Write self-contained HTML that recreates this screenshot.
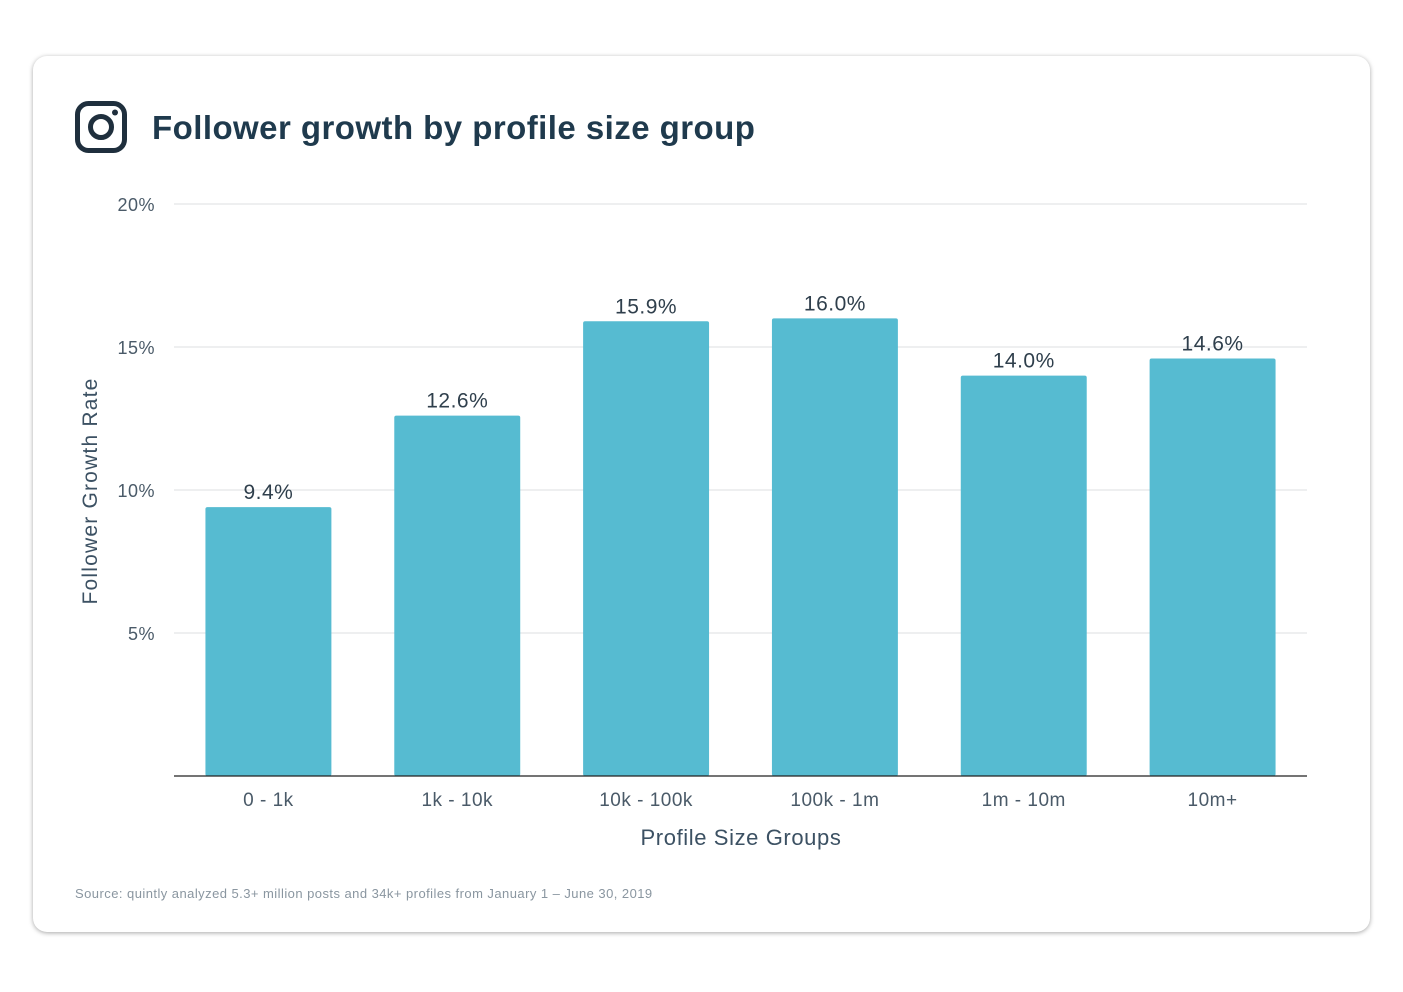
<!DOCTYPE html>
<html><head><meta charset="utf-8"><style>
html,body{margin:0;padding:0;background:#fff;width:1403px;height:992px;overflow:hidden;font-family:"Liberation Sans",sans-serif;}
#card{position:absolute;left:33px;top:56px;width:1337px;height:876px;border-radius:14px;background:#fff;box-shadow:0 1px 5px rgba(0,0,0,0.35);}
</style></head><body>
<div id="card"></div>
<svg width="1403" height="992" style="position:absolute;left:0;top:0">
<g>
<rect x="77.5" y="103.5" width="47" height="47" rx="11" fill="none" stroke="#1f2f3d" stroke-width="5"/>
<circle cx="101" cy="127" r="10.5" fill="none" stroke="#1f2f3d" stroke-width="5"/>
<circle cx="115" cy="112.5" r="3" fill="#1f2f3d"/>
</g>
<text x="152" y="139" font-size="33" font-weight="bold" fill="#1f3a4d" letter-spacing="0.45">Follower growth by profile size group</text>
<g id="grid"></g><g id="bars"></g><g id="labels"></g>
<text transform="translate(97,491) rotate(-90)" text-anchor="middle" font-size="21" letter-spacing="1.2" fill="#3c5163">Follower Growth Rate</text>
<text x="741" y="845" text-anchor="middle" font-size="22" letter-spacing="0.6" fill="#3c5163">Profile Size Groups</text>
<text x="75" y="898" font-size="13" letter-spacing="0.45" fill="#8a96a0">Source: quintly analyzed 5.3+ million posts and 34k+ profiles from January 1 – June 30, 2019</text>
</svg>
<script>
const categories=["0 - 1k","1k - 10k","10k - 100k","100k - 1m","1m - 10m","10m+"];
const values=[9.4,12.6,15.9,16.0,14.0,14.6];
const valueLabels=["9.4%","12.6%","15.9%","16.0%","14.0%","14.6%"];
const ticks=[5,10,15,20];
const tickLabels=["5%","10%","15%","20%"];
const NS="http://www.w3.org/2000/svg";
const x0=174,x1=1307,y0=776,yTop=204,maxV=20;
const y=v=>y0-(y0-yTop)*v/maxV;
const band=(x1-x0)/categories.length;
const bw=band*0.667;
function mk(tag,attrs,parent){const e=document.createElementNS(NS,tag);for(const k in attrs)e.setAttribute(k,attrs[k]);parent.appendChild(e);return e;}
const grid=document.getElementById('grid'),bars=document.getElementById('bars'),labels=document.getElementById('labels');
ticks.forEach((t,i)=>{
  const l=mk('line',{x1:x0,x2:x1,y1:y(t),y2:y(t),stroke:'#dcdfe2','stroke-width':1},grid);
  
  
  const tx=mk('text',{x:155,y:y(t)+7,'text-anchor':'end','font-size':18,'letter-spacing':0.5,fill:'#4a5a68'},grid);
  tx.textContent=tickLabels[i];
  
  
});
categories.forEach((c,i)=>{
  const cx=x0+band*(i+0.5);
  const r=mk('rect',{x:cx-bw/2,y:y(values[i]),width:bw,height:y0-y(values[i]),fill:'#56bbd1',rx:2},bars);
  
  
  const vl=mk('text',{x:cx,y:y(values[i])-8,'text-anchor':'middle','font-size':21,'letter-spacing':0.5,fill:'#2f3f4c'},labels);
  vl.textContent=valueLabels[i];
  
  
  const xl=mk('text',{x:cx,y:806,'text-anchor':'middle','font-size':19,'letter-spacing':0.5,fill:'#4a5a68'},labels);
  xl.textContent=c;
  
  
});
const ax=mk('line',{x1:x0,x2:x1,y1:y0,y2:y0,stroke:'#222','stroke-width':1.3},labels);


</script>
</body></html>
